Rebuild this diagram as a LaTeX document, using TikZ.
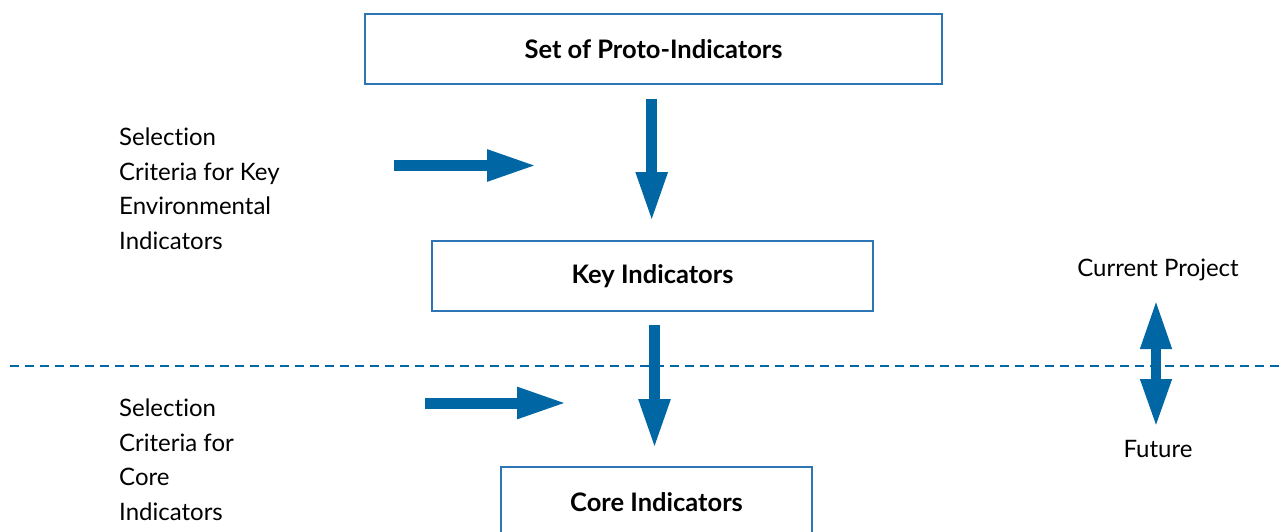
\documentclass[tikz,border=0pt]{standalone}
\usepackage{fontspec}
\setmainfont{Lato}[RawFeature={-liga;-dlig}]
\usetikzlibrary{arrows.meta}
\definecolor{flowblue}{RGB}{0,102,164}
\definecolor{frameblue}{RGB}{46,117,182}
\tikzset{
  x=1pt, y=-1pt,
  stagebox/.style={draw=frameblue, line width=1.2pt, fill=white, inner sep=0pt, font=\bfseries\fontsize{25.5}{30}\selectfont},
  blockarrow/.style={draw=flowblue, line width=11pt, -{Triangle[length=50pt,width=29pt]}},
  twoway/.style={draw=flowblue, line width=10pt, {Triangle[length=49pt,width=29pt]}-{Triangle[length=48pt,width=29pt]}},
  sidetext/.style={anchor=west, align=left, font=\fontsize{24}{34.5}\selectfont, inner sep=0pt},
  plaintext/.style={font=\fontsize{24}{28}\selectfont, inner sep=0pt},
  phase/.style={draw=flowblue, line width=1.4pt, dash pattern=on 9pt off 6pt}
}
\begin{document}
\begin{tikzpicture}
\useasboundingbox (0,0) rectangle (1281,532);
\begin{scope}
\clip (0,0) rectangle (1281,532);

% stages
\node[stagebox, minimum width=577pt, minimum height=70pt] (proto) at (653.5,49) {Set of Proto-Indicators};
\node[stagebox, minimum width=441pt, minimum height=70pt] (key) at (652.5,276) {Key Indicators};
\node[stagebox, minimum width=311pt, minimum height=70pt] (core) at (656.5,502) {Core Indicators};

% dividing line between project phases
\coordinate (lineL) at (10,366);
\coordinate (lineR) at (1281,366);
\draw[phase] (lineL) -- (lineR);

% selection criteria
\node[sidetext] (crit1) at (119,189) {Selection\\Criteria for Key\\Environmental\\Indicators};
\node[sidetext] (crit2) at (119,460) {Selection\\Criteria for\\Core\\Indicators};

% flow arrows
\coordinate (v1s) at (651.7,99);
\coordinate (v1e) at (651.7,222);
\draw[blockarrow] (v1s) -- (v1e);
\coordinate (h1s) at (394,165.5);
\coordinate (h1e) at (537,165.5);
\draw[blockarrow] (h1s) -- (h1e);
\coordinate (v2s) at (654.5,325);
\coordinate (v2e) at (654.5,449);
\draw[blockarrow] (v2s) -- (v2e);
\coordinate (h2s) at (425,403);
\coordinate (h2e) at (567,403);
\draw[blockarrow] (h2s) -- (h2e);

% phase labels
\node[plaintext] (cur) at (1158,270) {Current Project};
\node[plaintext] (fut) at (1158,449) {Future};
\coordinate (dTop) at (1156,300);
\coordinate (dBot) at (1156,427);
\draw[twoway] (dTop) -- (dBot);
\end{scope}
\end{tikzpicture}
\end{document}
